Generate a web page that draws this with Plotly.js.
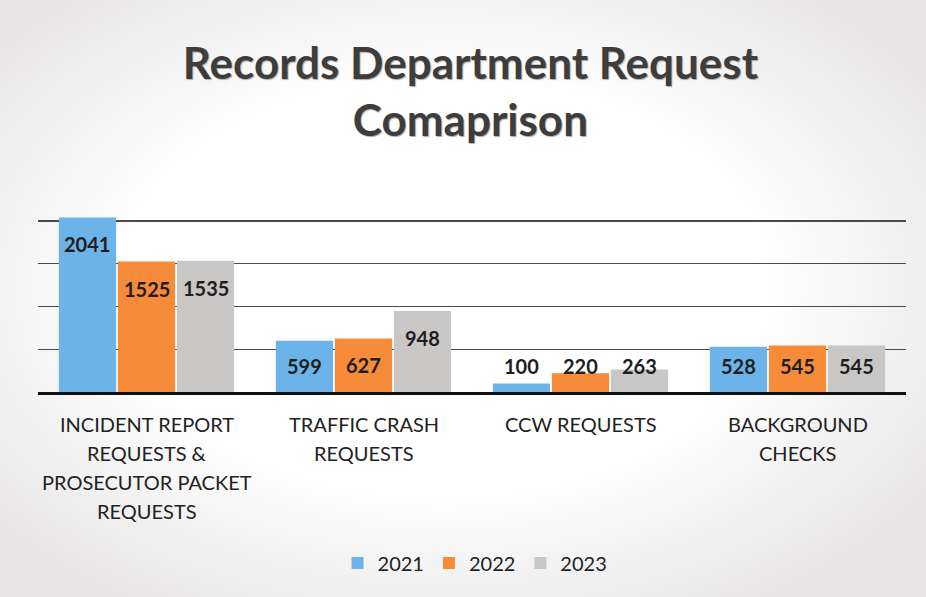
<!DOCTYPE html>
<html>
<head>
<meta charset="utf-8">
<script src="https://cdn.plot.ly/plotly-3.0.1.min.js"></script>
<style>
  html, body { margin:0; padding:0; }
  body { width:926px; height:597px; overflow:hidden;
    background: radial-gradient(ellipse 62% 62% at 48% 48%, #ffffff 55%, #e8e6e6 100%); }
  #chart { width:926px; height:597px; }
</style>
</head>
<body>
<div id="chart"></div>
<script>
const categories = [
  "INCIDENT REPORT<br>REQUESTS &<br>PROSECUTOR PACKET<br>REQUESTS",
  "TRAFFIC CRASH<br>REQUESTS",
  "CCW REQUESTS",
  "BACKGROUND<br>CHECKS"
];
const years = ["2021", "2022", "2023"];
const values2021 = [2041, 599, 100, 528];
const values2022 = [1525, 627, 220, 545];
const values2023 = [1535, 948, 263, 545];
const colors = ["#6bb3e8", "#f68b3a", "#c9c6c6"];
const seriesValues = [values2021, values2022, values2023];

const font = "Lato, 'Open Sans', sans-serif";

const W = 926, H = 597;
const margin = { l: 38, r: 20, t: 212, b: 205 };
const yMax = 2105;
const bargap = 0.184;
const plotW = W - margin.l - margin.r;
const plotH = H - margin.t - margin.b;
const catW = plotW / categories.length;
const slotW = catW * (1 - bargap) / seriesValues.length;
const pxPerUnit = plotH / yMax;

const traces = seriesValues.map((vals, i) => ({
  type: "bar",
  name: years[i],
  x: categories,
  y: vals,
  marker: { color: colors[i] },
  hoverinfo: "x+y"
}));

const annotations = [];
// value labels (Excel "inside end" style, clamped near the base for short bars)
seriesValues.forEach((vals, i) => {
  vals.forEach((v, j) => {
    const tall = v * pxPerUnit - 27 >= 26;
    annotations.push({
      xref: "x", yref: "y",
      x: categories[j], y: tall ? v : 0,
      xshift: (i - 1) * slotW,
      yshift: tall ? -27 : 26,
      yanchor: "middle", xanchor: "center",
      text: String(v), showarrow: false,
      font: { family: font, size: 20, color: "#1e1e1e", weight: 700 }
    });
  });
});
// category labels, one line each for Excel-like line spacing
categories.forEach((c) => {
  c.split("<br>").forEach((line, k) => {
    annotations.push({
      xref: "x", yref: "paper",
      x: c, y: 0,
      yanchor: "middle", xanchor: "center",
      yshift: -(32 + k * 29),
      text: line, showarrow: false,
      font: { family: font, size: 20, color: "#222" }
    });
  });
});

const layout = {
  width: W, height: H,
  paper_bgcolor: "rgba(0,0,0,0)",
  plot_bgcolor: "rgba(0,0,0,0)",
  margin: margin,
  barmode: "group",
  bargap: bargap,
  bargroupgap: 0.03,
  title: {
    text: "Records Department Request<br>Comaprison",
    font: { family: font, size: 44, color: "#3d3d3d", weight: 700, shadow: "1px 1px 1px #aaa" },
    x: 0.508, xanchor: "center",
    y: 0.868, yref: "container", yanchor: "top"
  },
  xaxis: {
    showline: true, linecolor: "#111", linewidth: 3,
    ticks: "", showticklabels: false,
    showgrid: false, zeroline: false
  },
  yaxis: {
    range: [0, yMax], dtick: 500, tick0: 0,
    showticklabels: false, ticks: "",
    showgrid: true, gridcolor: "#4a4a4a", gridwidth: 1.3,
    zeroline: false, showline: false
  },
  annotations: annotations,
  legend: {
    orientation: "h",
    x: 0.513, xref: "container", xanchor: "center",
    y: 0.057, yref: "container", yanchor: "middle",
    font: { family: font, size: 20, color: "#222" },
    itemwidth: 30, traceorder: "normal"
  },
  showlegend: true
};

Plotly.newPlot("chart", traces, layout, { displayModeBar: false, staticPlot: true });
</script>
</body>
</html>
